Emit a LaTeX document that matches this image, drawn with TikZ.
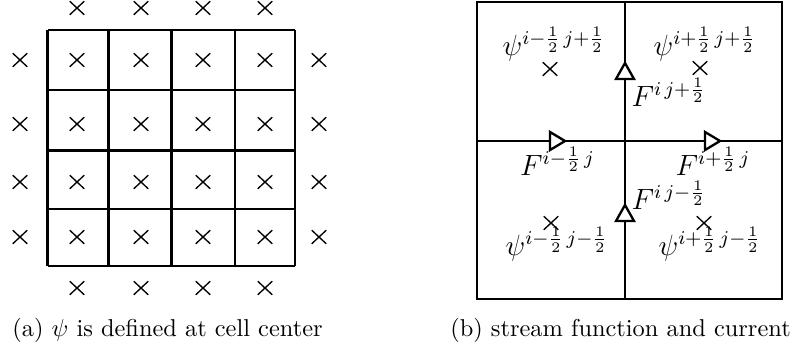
\documentclass[tikz,border=0pt]{standalone}
\usetikzlibrary{shapes.misc}
\begin{document}
\begin{tikzpicture}[x=0.41pt,y=-0.41pt,
  gridline/.style={line width=0.95pt},
  xmark/.style={cross out,draw,line width=0.55pt,inner sep=0pt,minimum width=5.4pt,minimum height=5pt},
  lab/.style={inner sep=0pt,font=\large},
  captext/.style={inner sep=0pt,font=\normalsize},
  tri/.style={line width=0.95pt,fill=white}]
\useasboundingbox (0,0) rectangle (804,354);
% ---------- (a) grid ----------
\foreach \x in {47.5,108.5,171.5,235,295}
  \draw[gridline] (\x,30) -- (\x,266);
\foreach \y in {30,90,150.5,209,266}
  \draw[gridline] (47.5,\y) -- (295,\y);
% interior and side crosses
\foreach \y [count=\r] in {60,124,182,237}{
  \node[xmark] (L\r) at (20,\y) {};
  \node[xmark] (R\r) at (319,\y) {};
  \foreach \x [count=\c] in {77,141,203,265}
    \node[xmark] (c\r-\c) at (\x,\y) {};
}
\foreach \x [count=\c] in {77,141,203,265}{
  \node[xmark] (T\c) at (\x,8) {};
  \node[xmark] (B\c) at (\x,288) {};
}
\node[captext] (capa) at (167.5,330) {(a) $\psi$ is defined at cell center};
% ---------- (b) ----------
\draw[gridline] (477,2) rectangle (782,299);
\draw[gridline] (625,2) -- (625,299);
\draw[gridline] (477,141) -- (782,141);
% triangles
\draw[tri] (550,132) -- (565,141) -- (550,150) -- cycle;
\draw[tri] (705,132) -- (720,141) -- (705,150) -- cycle;
\draw[tri] (616,79) -- (625,63) -- (634,79) -- cycle;
\draw[tri] (616,221) -- (625,205) -- (634,221) -- cycle;
% crosses
\node[xmark] (p1) at (550,69) {};
\node[xmark] (p2) at (700,68) {};
\node[xmark] (p3) at (551,223) {};
\node[xmark] (p4) at (704,223) {};
% labels
\node[lab] (l1) at (554,44) {$\psi^{i-\frac{1}{2}\,j+\frac{1}{2}}$};
\node[lab] (l2) at (705,44) {$\psi^{i+\frac{1}{2}\,j+\frac{1}{2}}$};
\node[lab] (l3) at (557,244) {$\psi^{i-\frac{1}{2}\,j-\frac{1}{2}}$};
\node[lab] (l4) at (710,244) {$\psi^{i+\frac{1}{2}\,j-\frac{1}{2}}$};
\node[lab] (f1) at (669,92) {$F^{i\,j+\frac{1}{2}}$};
\node[lab] (f2) at (669,195) {$F^{i\,j-\frac{1}{2}}$};
\node[lab] (f3) at (557.5,161) {$F^{i-\frac{1}{2}\,j}$};
\node[lab] (f4) at (713,161) {$F^{i+\frac{1}{2}\,j}$};
\node[captext] (capb) at (620.5,330) {(b) stream function and current};
\end{tikzpicture}
\end{document}
